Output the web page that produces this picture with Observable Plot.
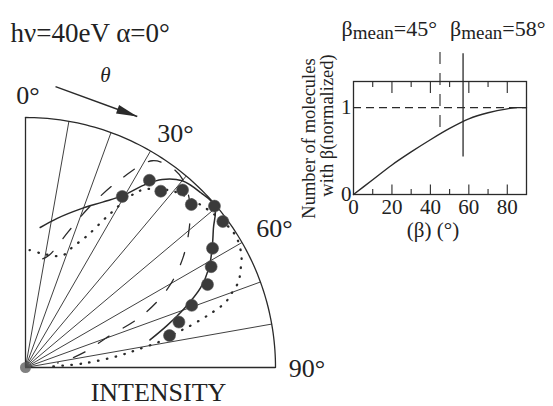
<!DOCTYPE html>
<html><head><meta charset="utf-8">
<script src="https://cdn.jsdelivr.net/npm/d3@7"></script>
<script src="https://cdn.jsdelivr.net/npm/@observablehq/plot@0.6"></script>
<style>
body{margin:0;background:#fff;}
#fig{position:relative;width:553px;height:406px;overflow:hidden;font-family:"Liberation Serif","Times New Roman",Tinos,Times,"DejaVu Serif",serif;color:#222;background:#fff;}
#fig svg{position:absolute;}
#fig svg text{font-family:"Liberation Serif","Times New Roman",Tinos,Times,"DejaVu Serif",serif;}
.ttl{position:absolute;white-space:nowrap;line-height:1;font-size:22px;color:#222;}
.ttl .sb{font-size:19px;position:relative;top:3px;}
</style></head><body><div id="fig"></div>
<script>
// ---------- data: polar intensity plot (theta in degrees, normalized intensity) ----------
const expTheta = [29.5, 33.5, 37.5, 41.5, 45.5, 49.5, 53.5, 57.5, 61.5, 65.5, 69.5, 73.5, 77.5];
const expInt   = [0.786, 0.898, 0.889, 0.948, 0.93, 0.994, 0.982, 0.887, 0.845, 0.80, 0.71, 0.64, 0.59];

const solidTheta = [6, 12, 19, 25, 29.5, 33, 36, 40, 45, 49.5, 53.5, 57.5, 61.5, 65.5, 69.5, 73.5, 77.5];
const solidInt   = [0.563, 0.61, 0.67, 0.73, 0.79, 0.87, 0.93, 0.975, 0.99, 0.995, 0.935, 0.885, 0.835, 0.77, 0.68, 0.59, 0.51];

const dashedTheta = [9, 12, 17.5, 22, 27, 31.5, 36, 40, 45, 49, 55, 61, 66, 70, 74, 78, 82];
const dashedInt   = [0.44, 0.46, 0.57, 0.70, 0.85, 0.97, 0.99, 0.98, 0.93, 0.87, 0.77, 0.65, 0.51, 0.34, 0.27, 0.20, 0.13];

const dottedTheta = [2, 9, 18, 21.5, 25, 28.5, 32, 34, 40, 48, 56, 59, 63, 66, 68, 70, 72, 74, 76, 77, 79, 81, 83, 86, 88];
const dottedInt   = [0.47, 0.46, 0.47, 0.52, 0.58, 0.69, 0.82, 0.86, 0.92, 0.96, 0.99, 0.99, 0.97, 0.94, 0.92, 0.88, 0.84, 0.76, 0.67, 0.62, 0.55, 0.45, 0.37, 0.23, 0.10];

const gridAngles = [10, 20, 30, 40, 50, 60, 70, 80];
const angleLabels = ["0°", "30°", "60°", "90°"];

// ---------- data: distribution plot ----------
const betaVals = [0, 10, 20, 30, 40, 50, 60, 70, 80, 85, 90];
const numVals  = [0, 0.17, 0.34, 0.49, 0.63, 0.76, 0.87, 0.94, 0.985, 1.0, 1.0];
const xTickLabels = [0, 20, 40, 60, 80];
const xMajorTicks = [20, 40, 60, 80];
const xMinorTicks = [10, 30, 50, 70];
const yTickLabels = [0, 1];
const betaMeanA = 45, betaMeanB = 57;

// ---------- helpers ----------
const FONT = '"Liberation Serif","Times New Roman",Tinos,Times,"DejaVu Serif",serif';
const rad = d => d * Math.PI / 180;
const px = (r, t) => r * Math.sin(rad(t));
const py = (r, t) => r * Math.cos(rad(t));
const rows = (T, R) => T.map((t, i) => ({t, r: R[i]}));
const INK = "#2a2a2a";

const expData = rows(expTheta, expInt);
const solidData = rows(solidTheta, solidInt);
const dashedData = rows(dashedTheta, dashedInt);
const dottedData = rows(dottedTheta, dottedInt);
const arcAngles = d3.range(0, 90.01, 1);

// layout of annotations (polar positions: [radius, angle])
const labelPos = [[1.088, 0.5], [1.11, 32.7], [1.14, 60.9], [1.126, 90.3]];
const arrowTail = [1.13, 6.1], arrowTip = [1.099, 24];

const headSymbol = {
  draw(ctx) { ctx.moveTo(0, 0); ctx.lineTo(4.5, 21); ctx.lineTo(-4.5, 21); ctx.closePath(); }
};

const fig = document.getElementById("fig");

const left = Plot.plot({
  width: 340, height: 406,
  marginLeft: 25, marginRight: 65, marginTop: 117, marginBottom: 39,
  x: {domain: [0, 1], axis: null},
  y: {domain: [0, 1], axis: null},
  style: {background: "transparent", fontFamily: FONT, color: "#222", overflow: "visible"},
  marks: [
    Plot.ruleX([0], {y1: 0, y2: 1, stroke: INK, strokeWidth: 1.3}),
    Plot.ruleY([0], {x1: 0, x2: 1, stroke: INK, strokeWidth: 1.3}),
    Plot.line(arcAngles, {x: d => px(1, d), y: d => py(1, d), stroke: INK, strokeWidth: 1.3}),
    Plot.link(gridAngles, {x1: 0, y1: 0, x2: d => px(1, d), y2: d => py(1, d), stroke: INK, strokeWidth: 0.9}),
    Plot.dot([0], {x: 0, y: 0, r: 5.5, fill: "#555", fillOpacity: 0.75}),
    Plot.line(dottedData, {x: d => px(d.r, d.t), y: d => py(d.r, d.t), stroke: INK, strokeWidth: 2.3,
      strokeDasharray: "0.5 8.5", strokeLinecap: "round", curve: "catmull-rom"}),
    Plot.line(dashedData, {x: d => px(d.r, d.t), y: d => py(d.r, d.t), stroke: INK, strokeWidth: 1.3,
      strokeDasharray: "13 16", curve: "catmull-rom"}),
    Plot.line(solidData, {x: d => px(d.r, d.t), y: d => py(d.r, d.t), stroke: INK, strokeWidth: 1.5, curve: "catmull-rom"}),
    Plot.dot(expData, {x: d => px(d.r, d.t), y: d => py(d.r, d.t), r: 6, fill: "#3b3b3b", stroke: "#555", strokeWidth: 0.6}),
    // angle labels
    Plot.text(angleLabels, {x: (d, i) => px(labelPos[i][0], labelPos[i][1]), y: (d, i) => py(labelPos[i][0], labelPos[i][1]),
      text: d => d, fontSize: 26, fill: "#222", textAnchor: "middle", lineAnchor: "middle"}),
    // theta direction arrow
    Plot.link([0], {x1: px(...arrowTail), y1: py(...arrowTail), x2: px(...arrowTip), y2: py(...arrowTip), stroke: INK, strokeWidth: 1.5}),
    Plot.dot([0], {x: px(...arrowTip), y: py(...arrowTip), symbol: headSymbol, fill: INK, stroke: "none",
      rotate: 110.2}),
    Plot.text(["θ"], {frameAnchor: "top-left", dx: 80, dy: -35.3, fontSize: 21, fontStyle: "italic",
      textAnchor: "middle", lineAnchor: "bottom", fill: "#222"}),
    Plot.text(["hν=40eV α=0°"], {frameAnchor: "top-left", dx: -15, dy: -75.3, fontSize: 27,
      textAnchor: "start", lineAnchor: "bottom", fill: "#222"}),
    Plot.text(["INTENSITY"], {frameAnchor: "bottom-left", dx: 133, dy: 33, fontSize: 26,
      textAnchor: "middle", lineAnchor: "bottom", fill: "#222"})
  ]
});
left.style.left = "0px"; left.style.top = "0px";
fig.appendChild(left);

const distData = betaVals.map((b, i) => ({b, n: numVals[i]}));
const FH = 113; // frame height in px
const right = Plot.plot({
  width: 273, height: 260,
  marginLeft: 73, marginRight: 27, marginTop: 81, marginBottom: 66,
  x: {domain: [0, 90], label: null},
  y: {domain: [0, 1.3], label: null},
  style: {background: "transparent", fontFamily: FONT, fontSize: "21px", color: "#222", overflow: "visible"},
  marks: [
    Plot.frame({stroke: INK, strokeWidth: 1.3}),
    Plot.ruleX(xMajorTicks, {insetTop: FH - 9.5, stroke: INK, strokeWidth: 1.1}),
    Plot.ruleX(xMinorTicks, {insetTop: FH - 5, stroke: INK, strokeWidth: 1.1}),
    Plot.ruleX(xMajorTicks, {insetBottom: FH - 12, stroke: INK, strokeWidth: 1.1}),
    Plot.ruleX(xMinorTicks, {insetBottom: FH - 6, stroke: INK, strokeWidth: 1.1}),
    Plot.axisX({ticks: xTickLabels, tickSize: 0, tickPadding: 5, tickFormat: d => String(d), fontSize: 21, label: null, fill: "#222"}),
    Plot.axisY({ticks: yTickLabels, tickSize: 0, tickPadding: 2, tickFormat: d => String(d), fontSize: 21, label: null, fill: "#222"}),
    Plot.ruleY([1], {x1: 0, x2: 90, stroke: INK, strokeWidth: 1.1, strokeDasharray: "8 5"}),
    Plot.ruleX([betaMeanA], {y1: 0.77, y2: 1.64, stroke: INK, strokeWidth: 1.1, strokeDasharray: "12 9"}),
    Plot.ruleX([betaMeanB], {y1: 0.43, y2: 1.62, stroke: INK, strokeWidth: 1.3}),
    Plot.line(distData, {x: "b", y: "n", stroke: INK, strokeWidth: 1.4, curve: "monotone-x"}),
    Plot.text(["Number of molecules"], {frameAnchor: "left", rotate: -90, dx: -44, dy: 0.5, fontSize: 18.5,
      textAnchor: "middle", lineAnchor: "middle", fill: "#222"}),
    Plot.text(["with β(normalized)"], {frameAnchor: "left", rotate: -90, dx: -26, dy: -12.5, fontSize: 18.5,
      textAnchor: "middle", lineAnchor: "middle", fill: "#222"}),
    Plot.text(["(β) (°)"], {frameAnchor: "bottom", dx: -7, dy: 42, fontSize: 21,
      textAnchor: "middle", lineAnchor: "bottom", fill: "#222"})
  ]
});
right.style.left = "280px"; right.style.top = "0px";
fig.appendChild(right);

// titles (with subscripts) above the distribution chart
function addTitle(leftPx, value) {
  const d = document.createElement("div");
  d.className = "ttl";
  d.style.left = leftPx + "px";
  d.style.top = "18px";
  d.innerHTML = `β<span class="sb">mean</span>=${value}°`;
  fig.appendChild(d);
}
addTitle(341.5, 45);
addTitle(450, 58);
</script>
</body></html>
